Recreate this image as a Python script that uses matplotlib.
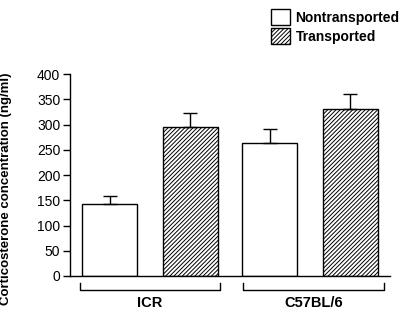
import numpy as np
import matplotlib
matplotlib.use("Agg")
import matplotlib.pyplot as plt

plt.rcParams['font.family'] = ['Liberation Sans', 'DejaVu Sans']
plt.rcParams['hatch.linewidth'] = 0.7

# Data
strains = ["ICR", "C57BL/6"]
nontransported = [143, 263]
nontransported_err = [15, 28]
transported = [295, 331]
transported_err = [28, 30]
yticks = [0, 50, 100, 150, 200, 250, 300, 350, 400]

fig = plt.figure(figsize=(4.0, 3.16), dpi=100)
ax = fig.add_axes([0.175, 0.1266, 0.8, 0.639])

x = np.arange(len(strains))
w = 0.344
off = 0.253

ax.bar(x - off, nontransported, w, yerr=[[0, 0], nontransported_err],
       color="white", edgecolor="black", linewidth=1.0,
       error_kw=dict(ecolor="black", elinewidth=1.0, capsize=5, capthick=1.0),
       label="Nontransported")
ax.bar(x + off, transported, w, yerr=[[0, 0], transported_err],
       color="white", edgecolor="black", linewidth=1.0, hatch="////////",
       error_kw=dict(ecolor="black", elinewidth=1.0, capsize=5, capthick=1.0),
       label="Transported")

ax.set_xlim(-0.5, 1.5)
ax.set_ylim(0, 400)
ax.set_yticks(yticks)
ax.tick_params(axis="y", direction="out", length=5, width=1.0, labelsize=10, pad=2)
ax.set_xticks([])
for s in ["top", "right"]:
    ax.spines[s].set_visible(False)
ax.spines["left"].set_linewidth(1.0)
ax.spines["bottom"].set_linewidth(1.0)

ax.set_ylabel("Corticosterone concentration (ng/ml)", fontsize=9.5,
              fontweight="bold", labelpad=12)
ax.yaxis.set_label_coords(-0.18, 0.43)

# group brackets under the axis
for i, name in enumerate(strains):
    left = x[i] - 0.44 + 0.02 * i
    right = x[i] + 0.44 + 0.02 * i
    ax.plot([left, left, right, right], [-14, -27.5, -27.5, -14],
            color="black", linewidth=1.0, clip_on=False)
    ax.text((left + right) / 2, -54, name, ha="center", va="center", fontsize=10.5,
            fontweight="bold")

fig.legend(loc="upper left", bbox_to_anchor=(0.645, 1.01), frameon=False,
           prop=dict(size=10, weight="bold"), handlelength=1.4,
           handleheight=1.4, handletextpad=0.4, labelspacing=0.2)

fig.savefig("out.png", dpi=100)
